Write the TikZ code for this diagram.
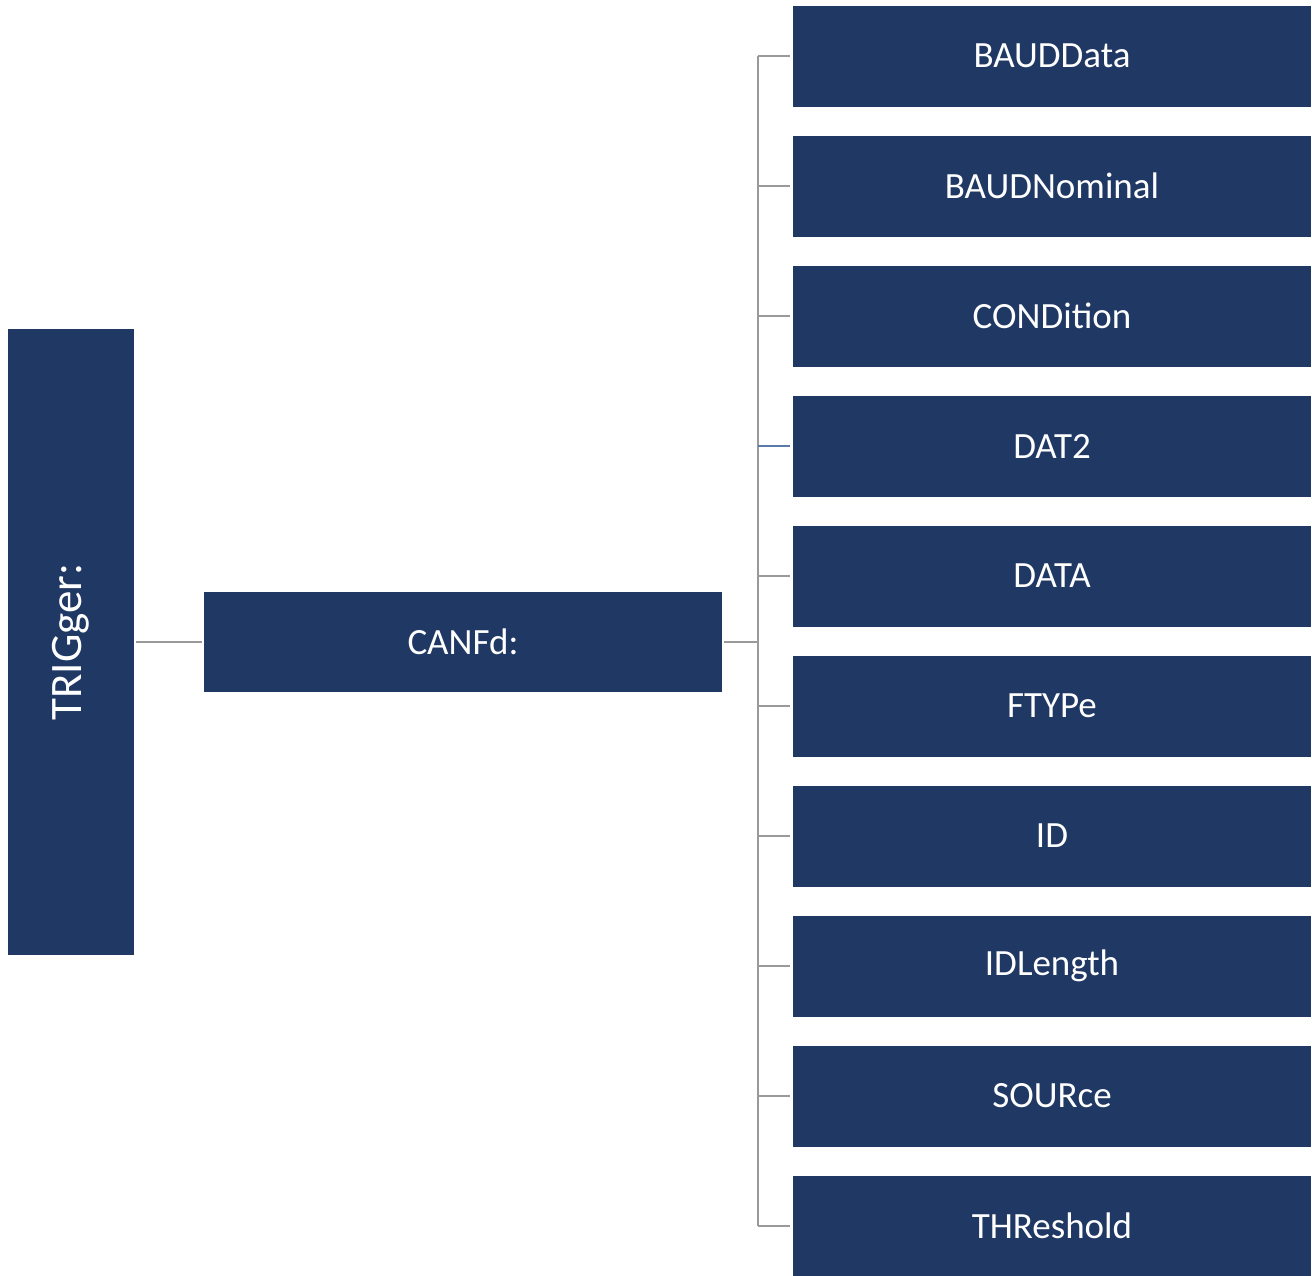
\documentclass[tikz,border=0pt]{standalone}
\usepackage{fontspec}
\setmainfont{Carlito}
\definecolor{navy}{HTML}{1F3864}
\definecolor{conn}{HTML}{9A9A9A}
\definecolor{connblue}{HTML}{5A7AAA}
\begin{document}
\begin{tikzpicture}[x=1pt,y=-1pt,
  box/.style={fill=navy, text=white, inner sep=0pt, font=\fontsize{37}{44}\selectfont},
  leaf/.style={box, minimum width=518pt, minimum height=101pt},
  link/.style={draw=conn, line width=2pt}]
\useasboundingbox (0,0) rectangle (1312,1275);
\fill[white] (0,0) rectangle (1312,1275);
\node[box, minimum width=126pt, minimum height=626pt, font=\fontsize{45}{54}\selectfont] (trig) at (71,642) {\rotatebox{90}{TRIGger:}};
\node[box, minimum width=518pt, minimum height=100pt] (canfd) at (463,642) {CANFd:};
\foreach \name [count=\i] in {BAUDData,BAUDNominal,CONDition,DAT2,DATA,FTYPe,ID,IDLength,SOURce,THReshold}{
  \node[leaf] (b\i) at (1052,{56+130*(\i-1)}) {\name};
}
\coordinate (bus) at (758,642);
\draw[link, shorten <=2pt, shorten >=2pt] (trig.east) -- (canfd.west);
\draw[link, shorten <=2pt] (canfd.east) -- (bus);
\draw[link] (bus |- b1.west) -- (bus |- b10.west);
\foreach \i in {1,2,3,5,6,7,8,9,10}{
  \draw[link, shorten >=3pt] (bus |- b\i.west) -- (b\i.west);
}
\draw[link, draw=connblue, shorten >=3pt] (bus |- b4.west) -- (b4.west);
\end{tikzpicture}
\end{document}
